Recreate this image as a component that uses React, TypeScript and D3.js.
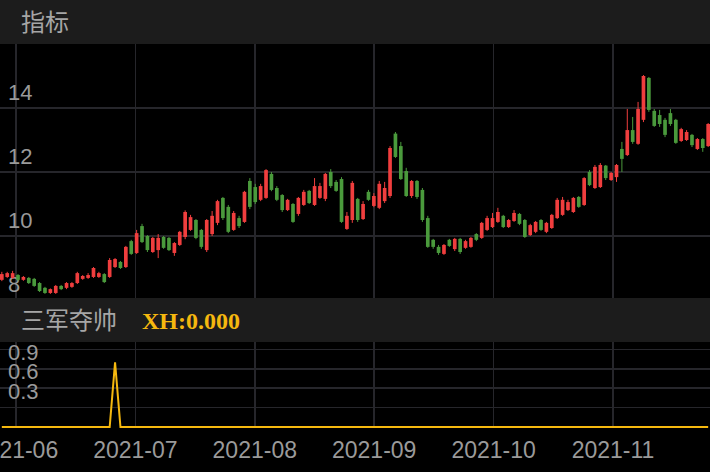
import React, { useRef, useEffect } from 'react';
import * as d3 from 'd3';

const WIDTH = 710;
const HEIGHT = 472;

const MONTH_LABELS = ["2021-06", "2021-07", "2021-08", "2021-09", "2021-10", "2021-11"];
const PRICE_TICKS = [8, 10, 12, 14];
const XH_TICKS = [0.3, 0.6, 0.9];
const XH_GRID = [0.3, 0.6, 0.9, 1.2];

// open, close, high, low
const CANDLES: [number, number, number, number][] = [
    [8.63, 8.81, 8.88, 8.59], [8.72, 8.84, 8.88, 8.69], [8.69, 8.84, 8.91, 8.66], [8.78, 8.63, 8.81, 8.59],
    [8.63, 8.72, 8.75, 8.60], [8.69, 8.53, 8.72, 8.50], [8.66, 8.44, 8.69, 8.41], [8.53, 8.28, 8.56, 8.25],
    [8.38, 8.22, 8.41, 8.19], [8.22, 8.34, 8.36, 8.19], [8.22, 8.44, 8.47, 8.19], [8.44, 8.34, 8.47, 8.31],
    [8.38, 8.53, 8.56, 8.34], [8.41, 8.53, 8.56, 8.38], [8.53, 8.84, 8.88, 8.50], [8.66, 8.75, 8.78, 8.63],
    [8.69, 8.78, 8.84, 8.66], [8.72, 9.00, 9.03, 8.69], [8.72, 8.84, 8.88, 8.69], [8.81, 8.56, 8.84, 8.53],
    [8.72, 9.25, 9.31, 8.69], [9.03, 9.28, 9.31, 9.00], [9.19, 9.00, 9.22, 8.97], [9.03, 9.66, 9.69, 9.00],
    [9.84, 9.44, 9.88, 9.41], [9.47, 10.09, 10.19, 9.44], [10.31, 9.81, 10.38, 9.78], [10.00, 9.56, 10.03, 9.50],
    [9.50, 9.94, 9.97, 9.47], [9.56, 9.94, 10.06, 9.31], [9.97, 9.63, 10.00, 9.60], [9.94, 9.56, 9.97, 9.53],
    [9.47, 9.78, 9.81, 9.38], [9.72, 10.13, 10.16, 9.69], [9.97, 10.75, 10.80, 9.90], [10.19, 10.59, 10.66, 10.16],
    [10.50, 9.94, 10.53, 9.90], [10.19, 9.66, 10.22, 9.60], [9.56, 10.50, 10.53, 9.50], [10.06, 10.63, 10.78, 10.00],
    [10.41, 11.09, 11.13, 10.34], [11.19, 10.56, 11.22, 10.50], [10.91, 10.13, 10.97, 10.09], [10.19, 10.72, 10.78, 10.16],
    [10.56, 10.31, 10.63, 10.25], [10.44, 11.38, 11.41, 10.41], [11.72, 10.91, 11.81, 10.84], [11.53, 11.06, 11.63, 11.00],
    [11.13, 11.56, 11.63, 11.09], [11.19, 12.06, 12.09, 11.16], [11.94, 11.44, 12.00, 11.40], [11.50, 11.13, 11.56, 11.09],
    [11.28, 10.81, 11.31, 10.75], [10.81, 11.13, 11.16, 10.78], [11.00, 10.44, 11.03, 10.41], [10.69, 11.19, 11.22, 10.63],
    [10.97, 11.38, 11.44, 10.94], [11.41, 11.03, 11.44, 11.00], [10.97, 11.56, 11.81, 10.94], [11.19, 11.56, 11.66, 11.16],
    [11.16, 11.94, 11.97, 11.09], [12.00, 11.56, 12.09, 11.50], [11.69, 11.41, 11.75, 11.38], [11.78, 10.44, 11.84, 10.41],
    [10.22, 10.63, 10.75, 10.19], [10.50, 11.66, 11.72, 10.41], [11.16, 10.50, 11.19, 10.44], [10.53, 11.00, 11.09, 10.50],
    [11.38, 11.13, 11.44, 11.10], [10.94, 11.25, 11.34, 10.90], [10.88, 11.63, 11.72, 10.84], [11.09, 11.50, 11.69, 11.03],
    [11.25, 12.75, 12.81, 11.19], [13.20, 12.47, 13.25, 12.44], [12.81, 11.78, 12.94, 11.75], [12.03, 11.25, 12.13, 11.22],
    [11.25, 11.72, 11.75, 11.19], [11.72, 11.22, 11.75, 11.16], [11.44, 10.50, 11.50, 10.44], [10.56, 9.66, 10.63, 9.63],
    [9.88, 9.66, 9.91, 9.60], [9.66, 9.47, 9.72, 9.41], [9.44, 9.72, 9.75, 9.41], [9.88, 9.69, 9.91, 9.66],
    [9.59, 9.91, 9.94, 9.53], [9.91, 9.50, 9.94, 9.44], [9.63, 9.84, 9.88, 9.60], [9.66, 9.94, 9.97, 9.63],
    [10.06, 9.88, 10.09, 9.84], [9.94, 10.41, 10.44, 9.91], [10.19, 10.56, 10.63, 10.16], [10.28, 10.56, 10.72, 10.25],
    [10.44, 10.75, 10.88, 10.41], [10.63, 10.28, 10.66, 10.25], [10.28, 10.50, 10.53, 10.25], [10.47, 10.72, 10.81, 10.44],
    [10.69, 10.38, 10.72, 10.34], [10.50, 9.97, 10.53, 9.94], [10.03, 10.34, 10.38, 10.00], [10.13, 10.44, 10.47, 10.09],
    [10.50, 10.19, 10.53, 10.16], [10.13, 10.41, 10.44, 10.09], [10.25, 10.66, 10.69, 10.22], [10.56, 11.13, 11.19, 10.53],
    [10.66, 11.13, 11.22, 10.63], [10.81, 11.06, 11.13, 10.78], [10.75, 11.19, 11.22, 10.72], [11.22, 10.91, 11.25, 10.88],
    [10.97, 11.81, 11.84, 10.94], [12.00, 11.59, 12.06, 11.56], [11.50, 12.16, 12.22, 11.47], [11.53, 12.22, 12.28, 11.50],
    [12.20, 11.81, 12.22, 11.75], [11.75, 11.97, 12.00, 11.72], [11.84, 12.22, 12.25, 11.69], [12.72, 12.41, 12.94, 12.00],
    [12.53, 13.31, 13.97, 12.50], [13.31, 12.94, 13.72, 12.88], [12.88, 13.97, 14.19, 12.85], [13.63, 15.00, 15.03, 13.56],
    [14.94, 13.94, 14.97, 13.88], [13.91, 13.44, 13.97, 13.41], [13.78, 13.50, 13.94, 13.41], [13.63, 13.16, 13.69, 13.09],
    [13.84, 13.50, 13.97, 13.44], [13.63, 12.91, 13.66, 12.88], [12.97, 13.34, 13.38, 12.94], [13.00, 13.25, 13.31, 12.97],
    [13.16, 12.84, 13.19, 12.78], [12.72, 13.03, 13.06, 12.69], [13.03, 12.75, 13.06, 12.63], [12.81, 13.50, 13.53, 12.78]
];

// 三军夺帅 signal, one value per candle
const XH_VALUES = [
    0, 0, 0, 0, 0, 0, 0, 0, 0, 0, 0, 0, 0, 0, 0, 0, 0, 0, 0, 0, 0, 1,
    0, 0, 0, 0, 0, 0, 0, 0, 0, 0, 0, 0, 0, 0, 0, 0, 0, 0, 0, 0, 0, 0,
    0, 0, 0, 0, 0, 0, 0, 0, 0, 0, 0, 0, 0, 0, 0, 0, 0, 0, 0, 0, 0, 0,
    0, 0, 0, 0, 0, 0, 0, 0, 0, 0, 0, 0, 0, 0, 0, 0, 0, 0, 0, 0, 0, 0,
    0, 0, 0, 0, 0, 0, 0, 0, 0, 0, 0, 0, 0, 0, 0, 0, 0, 0, 0, 0, 0, 0,
    0, 0, 0, 0, 0, 0, 0, 0, 0, 0, 0, 0, 0, 0, 0, 0, 0, 0, 0, 0, 0, 0
];

const UP_COLOR = "#f03e3e";
const DOWN_COLOR = "#4a9a3c";
const GRID_COLOR = "#26262b";
const HEADER_BG = "#1c1c1c";
const LABEL_COLOR = "#9a9a9a";
const XH_COLOR = "#f5b80f";

const NUM_FONT = "'Liberation Sans', Arial, sans-serif";
const CJK_FONT = "'Noto Sans CJK SC', sans-serif";

const App: React.FC = () => {
    const svgRef = useRef<SVGSVGElement>(null);

    useEffect(() => {
        document.body.style.margin = "0";
        document.body.style.background = "#000";
        if (!svgRef.current) return;

        const svg = d3.select(svgRef.current);
        svg.selectAll("*").remove();

        const mainTop = 44;
        const mainBottom = 300;
        const subTop = 342;

        const x = d3.scaleBand<number>()
            .domain(d3.range(CANDLES.length))
            .range([0, WIDTH])
            .paddingInner(0.32);
        const bw = x.bandwidth();
        const cx = (i: number) => (x(i) ?? 0) + bw / 2;

        const monthX = d3.scalePoint<string>()
            .domain(MONTH_LABELS)
            .range([16, 613]);

        const y = d3.scaleLinear().domain([8, 16]).range([mainBottom, mainTop]);
        const ySub = d3.scaleLinear().domain([0, 1.3]).range([427, subTop + 1]);

        svg.append("rect")
            .attr("width", WIDTH)
            .attr("height", HEIGHT)
            .attr("fill", "#000");

        // main panel grid
        const grid = svg.append("g")
            .attr("stroke", GRID_COLOR)
            .attr("stroke-width", 1.5)
            .attr("shape-rendering", "crispEdges");

        grid.selectAll("line.h")
            .data(PRICE_TICKS)
            .join("line")
            .attr("class", "h")
            .attr("x1", 0)
            .attr("x2", WIDTH)
            .attr("y1", d => y(d))
            .attr("y2", d => y(d));

        grid.selectAll("line.v")
            .data(MONTH_LABELS)
            .join("line")
            .attr("class", "v")
            .attr("x1", d => monthX(d) ?? 0)
            .attr("x2", d => monthX(d) ?? 0)
            .attr("y1", mainTop)
            .attr("y2", mainBottom);

        // sub panel grid
        grid.selectAll("line.sh")
            .data(XH_GRID)
            .join("line")
            .attr("class", "sh")
            .attr("x1", 0)
            .attr("x2", WIDTH)
            .attr("y1", d => ySub(d))
            .attr("y2", d => ySub(d));

        grid.selectAll("line.sv")
            .data(MONTH_LABELS)
            .join("line")
            .attr("class", "sv")
            .attr("x1", d => monthX(d) ?? 0)
            .attr("x2", d => monthX(d) ?? 0)
            .attr("y1", subTop)
            .attr("y2", ySub(0));

        // price labels sit just above their grid line
        svg.append("g")
            .selectAll("text")
            .data(PRICE_TICKS)
            .join("text")
            .attr("x", 8)
            .attr("y", d => y(d) - 8)
            .attr("fill", LABEL_COLOR)
            .style("font-family", NUM_FONT)
            .style("font-size", "22px")
            .text(d => d);

        // candles
        const candles = svg.append("g");
        CANDLES.forEach(([o, c, h, l], i) => {
            const color = c >= o ? UP_COLOR : DOWN_COLOR;
            candles.append("line")
                .attr("x1", cx(i))
                .attr("x2", cx(i))
                .attr("y1", y(h))
                .attr("y2", y(l))
                .attr("stroke", color)
                .attr("stroke-width", 1);
            candles.append("rect")
                .attr("x", x(i) ?? 0)
                .attr("width", bw)
                .attr("y", y(Math.max(o, c)))
                .attr("height", Math.max(1, Math.abs(y(o) - y(c))))
                .attr("fill", color);
        });

        // header bars
        svg.append("rect")
            .attr("x", 0).attr("y", 0)
            .attr("width", WIDTH).attr("height", mainTop)
            .attr("fill", HEADER_BG);
        svg.append("rect")
            .attr("x", 0).attr("y", 298)
            .attr("width", WIDTH).attr("height", subTop - 298)
            .attr("fill", HEADER_BG);

        svg.append("text")
            .attr("x", 21)
            .attr("y", 31)
            .attr("fill", "#a6a6a6")
            .style("font-family", CJK_FONT)
            .style("font-size", "24px")
            .text("指标");

        svg.append("text")
            .attr("x", 21)
            .attr("y", 329)
            .attr("fill", "#a6a6a6")
            .style("font-family", CJK_FONT)
            .style("font-size", "24px")
            .text("三军夺帅");

        svg.append("text")
            .attr("x", 142)
            .attr("y", 329)
            .attr("fill", XH_COLOR)
            .style("font-family", "'Liberation Serif', 'Times New Roman', serif")
            .style("font-weight", "bold")
            .style("font-size", "24px")
            .text("XH:0.000");

        // sub panel labels
        svg.append("g")
            .selectAll("text")
            .data(XH_TICKS)
            .join("text")
            .attr("x", 8)
            .attr("y", d => ySub(d) - 9)
            .attr("fill", LABEL_COLOR)
            .style("font-family", NUM_FONT)
            .style("font-size", "22px")
            .text(d => d.toFixed(1));

        const line = d3.line<number>()
            .x((_, i) => cx(i))
            .y(d => ySub(d));

        svg.append("path")
            .datum(XH_VALUES)
            .attr("d", line)
            .attr("fill", "none")
            .attr("stroke", XH_COLOR)
            .attr("stroke-width", 2);

        // month labels
        svg.append("g")
            .selectAll("text")
            .data(MONTH_LABELS)
            .join("text")
            .attr("x", d => monthX(d) ?? 0)
            .attr("y", 458)
            .attr("fill", LABEL_COLOR)
            .style("font-family", NUM_FONT)
            .style("font-size", "23px")
            .style("text-anchor", "middle")
            .text(d => d);
    }, []);

    return (
        <div style={{ width: WIDTH, height: HEIGHT, background: "#000" }}>
            <svg ref={svgRef} width={WIDTH} height={HEIGHT} style={{ display: "block" }} />
        </div>
    );
};

export default App;
